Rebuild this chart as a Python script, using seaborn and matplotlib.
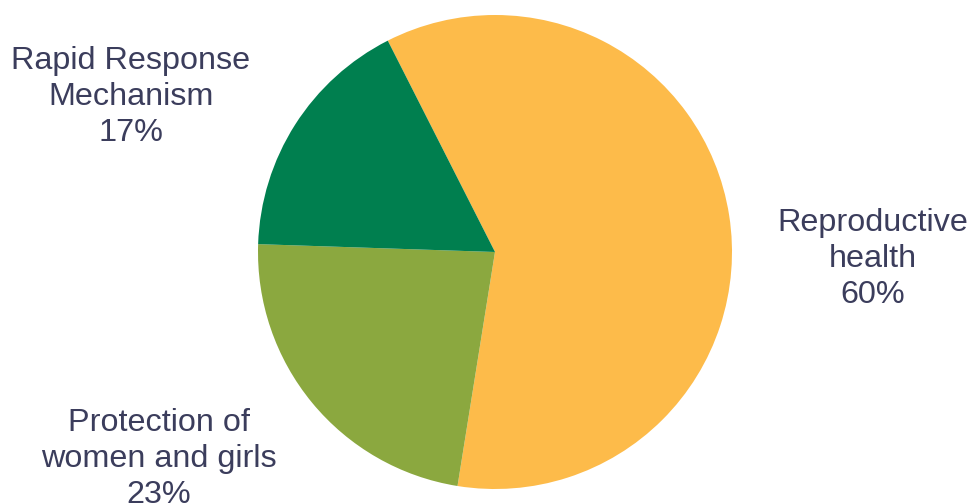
import matplotlib
matplotlib.use("Agg")
import matplotlib.pyplot as plt
import seaborn as sns

# data
categories = ["Reproductive\nhealth", "Protection of\nwomen and girls", "Rapid Response\nMechanism"]
shares = [60, 23, 17]
colors = ["#FDBB4A", "#8BA83F", "#007F4F"]
label_xy = [(873, 245), (159, 45), (131, 407)]

sns.set_theme(style="white")
plt.rcParams['font.family'] = ['Liberation Sans', 'DejaVu Sans']

fig = plt.figure(figsize=(9.7, 5.04), dpi=100)
ax = fig.add_axes([0, 0, 1, 1])

# pie in pixel-like coordinates so the layout matches the reference
ax.pie(shares, colors=colors, startangle=116.9, counterclock=False,
       center=(495, 252), radius=237, wedgeprops=dict(linewidth=0))

for cat, val, (x, y) in zip(categories, shares, label_xy):
    ax.text(x, y, f"{cat}\n{val}%", ha="center", va="center",
            fontsize=23.3, color="#3b3d5c", linespacing=1.28)

ax.set_xlim(0, 970)
ax.set_ylim(0, 504)
ax.set_aspect("equal")
ax.axis("off")

plt.savefig("out.png", dpi=100, facecolor="white")
plt.close()
